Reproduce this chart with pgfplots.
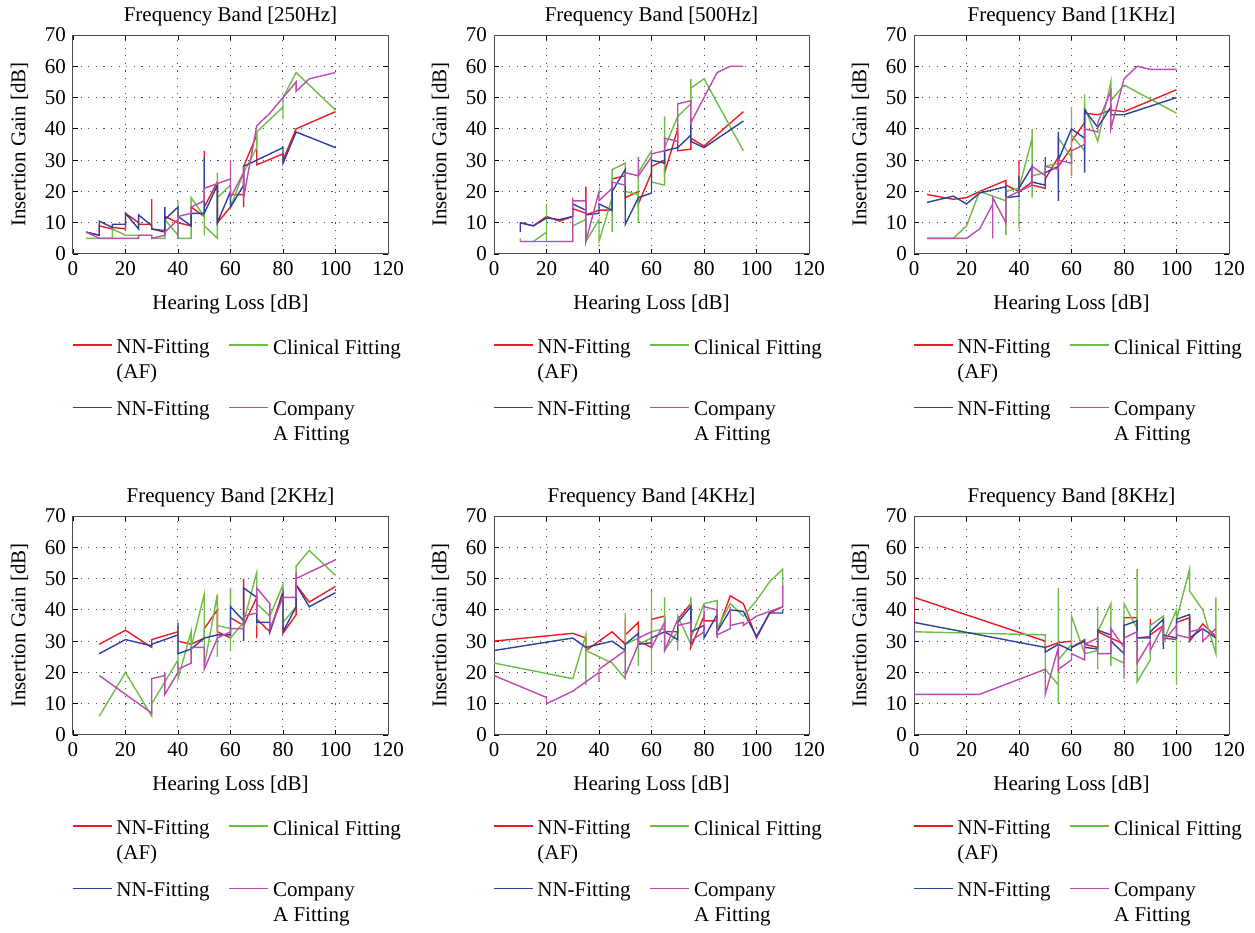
\documentclass[border=0pt]{standalone}
\usepackage{pgfplots}
\pgfplotsset{compat=1.18}
\usepackage{fontspec}
\setmainfont{Liberation Serif}
\definecolor{cRed}{RGB}{237,28,36}
\definecolor{cGreen}{RGB}{110,190,70}
\definecolor{cBlue}{RGB}{45,65,160}
\definecolor{cMag}{RGB}{190,75,175}
\pgfplotsset{
  myax/.style={
    scale only axis, width=157.5pt, height=109.5pt,
    anchor=north west,
    xmin=0, xmax=120, ymin=0, ymax=70,
    xtick={0,20,...,120}, ytick={0,10,...,70},
    grid=major,
    grid style={black!70, line width=0.5pt, dash pattern=on 0.6pt off 3.2pt},
    tick style={black, line width=0.4pt}, major tick length=2.5pt,
    axis line style={black!70, line width=0.5pt},
    tick label style={font=\fontsize{10.5}{12}\selectfont},
    label style={font=\fontsize{10.5}{12}\selectfont},
    title style={font=\fontsize{10.5}{12}\selectfont, yshift=-5pt},
    /pgf/number format/assume math mode=true,
    xlabel={Hearing Loss [dB]}, ylabel={Insertion Gain [dB]},
    ylabel style={yshift=1.5pt},
    xlabel style={yshift=-3pt},
    legend columns=2,
    legend style={draw=none, fill=none, at={(0.005,-0.35)}, anchor=north west,
      font=\fontsize{10.5}{12.5}\selectfont,
      cells={anchor=north west, align=left},
      /tikz/every even column/.append style={column sep=12pt},
      row sep=6pt},
    legend image code/.code={\path (0pt,-5pt) -- (15pt,-5pt); \draw[#1, line width=0.8pt, overlay] (-4.5pt,-5pt) -- (10.5pt,-5pt);},
    every axis plot/.append style={line width=0.7pt},
  }
}
\newcommand{\legs}{\legend{{NN-Fitting\\(AF)},{Clinical Fitting},{NN-Fitting},{Company\\A Fitting}}}
\begin{document}
\begin{tikzpicture}
\path (0,0) rectangle (627.5pt,-461.5pt);
% ---------- 250 Hz
\begin{axis}[myax, at={(36.5pt,-17.5pt)}, title={Frequency Band [250Hz]}]
\addplot[cRed] coordinates {(5,7)(10,6)(10,9)(15,8)(15,8.5)(20,8)(20,13)(25,10)(25,9.5)(30,9.5)(30,17.5)(30,8)(35,7.5)(35,12)(40,10)(45,9)(45,15)(50,12)(50,33)(50,15)(55,23)(55,10)(60,15)(60,19)(65,19)(65,15)(65,28)(70,38)(70,28.5)(80,32)(80,30)(85,40)(100,45.5)};
\addplot[cGreen] coordinates {(5,5)(10,5)(15,5)(15,8)(20,6)(25,6)(30,6)(30,5)(35,5)(35,11)(40,6)(40,17)(40,5)(45,5)(45,18)(50,12)(50,6)(50,15)(50,9)(55,5)(55,26)(55,18)(60,22)(60,15)(65,26)(70,34)(70,39)(80,47)(80,43)(80,50)(85,58)(100,46)};
\addplot[cBlue] coordinates {(5,7)(10,6)(10,10.5)(15,8.5)(15,9.5)(20,9.5)(20,13)(25,8)(25,12.5)(30,9)(30,8)(35,7)(35,15)(35,11)(40,15)(40,12)(45,9)(45,13)(50,13)(50,31)(50,13)(55,22)(55,10)(60,20)(60,15)(65,22)(65,28)(70,30)(80,34)(80,29)(85,39)(100,34)};
\addplot[cMag] coordinates {(5,7)(10,5)(15,5)(20,5)(25,5)(25,6)(30,6)(30,5)(35,6)(35,7)(40,11)(40,5)(40,12)(45,13)(45,15)(50,17)(50,21)(60,24)(60,30)(60,18)(65,26)(65,28)(65,18)(70,41)(75,45)(80,50)(85,55)(85,52)(90,56)(100,58)};
\legs
\end{axis}
% ---------- 500 Hz
\begin{axis}[myax, at={(247pt,-17.5pt)}, title={Frequency Band [500Hz]}]
\addplot[cRed] coordinates {(10,10)(15,9)(20,12)(25,10.5)(30,12)(30,14.5)(35,13)(35,21.5)(35,12.5)(40,14)(45,14)(45,24)(50,25)(50,18)(55,20)(55,16)(60,26)(60,28)(65,30)(65,26)(70,40)(70,33)(75,33.5)(75,37)(80,34.5)(95,45.5)};
\addplot[cGreen] coordinates {(10,5)(10,4)(15,4)(20,7)(20,16)(20,4)(30,4)(30,9)(35,11)(35,4)(40,11)(40,4)(45,18)(45,7)(45,27)(50,29)(50,15)(50,20)(55,19)(55,10)(55,26)(60,33)(60,23)(65,22)(65,44)(65,34)(70,44)(75,48)(75,56)(75,53)(80,56)(95,33)};
\addplot[cBlue] coordinates {(10,7)(10,10)(15,9)(20,11.5)(25,11)(30,12)(30,16)(35,14)(35,12.5)(40,13)(40,16)(45,14)(45,20)(50,27)(50,9.5)(55,18)(60,19.5)(60,30)(65,29)(65,33)(70,34)(75,38)(75,42)(75,36)(80,34)(95,42.5)};
\addplot[cMag] coordinates {(10,4)(20,4)(30,4)(30,18)(30,17)(35,17)(35,4)(40,20)(40,17)(45,21)(45,23)(50,22)(50,26)(55,25)(55,31)(55,25)(60,31)(60,32)(65,33)(65,37)(70,36)(70,48)(75,49)(75,42)(80,50)(85,58)(90,60)(95,60)};
\legs
\end{axis}
% ---------- 1 kHz
\begin{axis}[myax, at={(457pt,-17.5pt)}, title={Frequency Band [1KHz]}]
\addplot[cRed] coordinates {(5,19)(15,17.5)(20,18)(25,20)(35,23.5)(35,22)(40,20)(40,30)(40,20)(45,23)(45,22)(50,21)(50,24)(55,31)(55,28)(60,34)(60,25)(60,36)(65,42)(65,45)(70,44.5)(75,46)(80,45.5)(100,52.5)};
\addplot[cGreen] coordinates {(5,5)(15,5)(20,9)(25,20)(35,17)(35,6)(35,20)(40,21)(40,8)(40,21)(45,37)(45,40)(45,18)(45,25)(50,26)(50,28)(55,29)(55,24)(55,37)(60,31)(60,47)(60,25)(60,38)(65,33)(65,51)(65,47)(70,36)(75,55)(75,49)(80,54)(100,45)};
\addplot[cBlue] coordinates {(5,16.5)(15,18.5)(20,16)(25,19.5)(35,21.5)(35,18)(40,18.5)(40,25)(40,21)(45,28)(45,23)(50,22)(50,31)(50,26)(55,28)(55,17)(55,39)(55,30)(60,40)(65,37)(65,26)(65,46)(70,40.5)(75,47)(75,44.5)(80,44.5)(100,50)};
\addplot[cMag] coordinates {(5,5)(20,5)(25,8)(30,16)(30,5)(30,18)(35,10)(35,18)(40,20)(45,22)(45,28)(50,25)(50,28)(55,27)(55,30)(60,29)(60,33)(65,35)(65,40)(70,39)(70,42)(75,52)(75,40)(80,56)(85,60)(90,59)(100,59)};
\legs
\end{axis}
% ---------- 2 kHz
\begin{axis}[myax, at={(36.5pt,-258pt)}, title={Frequency Band [2KHz]}]
\addplot[cRed] coordinates {(10,29)(20,33.5)(30,28)(30,30.5)(40,33)(40,30)(45,29)(50,31)(50,34)(55,40)(55,33)(60,31)(60,47)(60,37.5)(65,35)(65,50)(65,35)(70,44)(70,31)(70,37)(75,33)(80,46)(80,32.5)(85,38.5)(85,48)(90,42.5)(100,47.5)};
\addplot[cGreen] coordinates {(10,6)(20,20)(30,6)(30,10)(40,24)(40,35)(40,18)(45,33)(45,28)(50,45)(50,41)(50,22)(55,45)(55,25)(55,35)(60,34)(60,27)(60,47)(60,31)(65,36)(70,52)(70,35)(70,42)(75,38)(80,48)(80,36)(85,41)(85,54)(90,59)(100,51)};
\addplot[cBlue] coordinates {(10,26)(20,30.5)(30,28.5)(30,29)(40,32)(40,36)(40,26)(45,27.5)(50,31)(55,32)(60,32)(60,41)(65,36.5)(65,30)(65,47)(70,44)(70,36)(75,36)(75,33)(80,45)(80,33)(85,41)(85,48)(90,41)(100,45.5)};
\addplot[cMag] coordinates {(10,19)(30,7)(30,18)(35,19)(35,20)(35,13)(40,20)(40,23)(40,21)(45,23)(45,28)(50,28)(50,21)(55,31)(60,33)(60,34)(65,34)(65,38)(70,39)(70,47)(75,42)(75,34)(80,44)(85,44)(85,52)(85,50)(100,56)};
\legs
\end{axis}
% ---------- 4 kHz
\begin{axis}[myax, at={(247pt,-258pt)}, title={Frequency Band [4KHz]}]
\addplot[cRed] coordinates {(0,30)(30,32.5)(35,31)(35,27)(45,33)(50,29)(50,37)(50,32)(55,36)(55,30)(60,28)(60,37)(65,38)(65,33)(70,33)(70,37)(75,42)(75,28)(80,38)(80,36.5)(85,36.5)(85,33)(90,44.5)(95,42)(100,31)(105,39)(110,41)};
\addplot[cGreen] coordinates {(0,23)(30,18)(35,32)(35,16)(35,27)(45,23)(50,18)(50,39)(50,29)(55,31)(55,22)(55,29)(60,31)(60,46)(60,20)(60,33)(65,34)(65,44)(65,27)(70,33)(70,27)(70,38)(75,29)(75,44)(75,31)(80,42)(85,43)(85,34)(90,42)(95,38)(100,43)(105,49)(110,53)(110,41)};
\addplot[cBlue] coordinates {(0,27)(30,31)(35,28)(45,30)(50,27)(50,29)(55,32.5)(55,29)(60,29.5)(60,31)(65,33)(70,30.5)(70,36)(75,41)(75,29)(75,33)(80,35)(80,31)(85,38.5)(85,33)(90,40)(95,39.5)(100,31.5)(105,39)(110,39)(110,40)};
\addplot[cMag] coordinates {(0,19)(20,12)(20,10)(30,14)(40,20)(40,17)(40,21)(50,27)(50,19)(55,29)(55,31)(60,33)(60,28)(65,36)(65,27)(70,37)(70,35)(75,36)(75,30)(80,33)(80,41)(85,40)(85,31)(85,32)(90,34)(90,41)(90,35)(95,36)(95,35)(100,38)(110,41)(110,48)};
\legs
\end{axis}
% ---------- 8 kHz
\begin{axis}[myax, at={(457pt,-258pt)}, title={Frequency Band [8KHz]}]
\addplot[cRed] coordinates {(0,27)(0,44)(50,30)(50,28)(55,29.5)(60,30)(60,28)(65,30.5)(65,29)(70,28)(70,33)(75,31)(80,29)(80,37.5)(85,37.5)(85,31)(90,31.5)(90,37)(90,32)(95,35)(95,31)(100,30.5)(100,36)(105,37.5)(105,30)(110,35.5)(115,31.5)};
\addplot[cGreen] coordinates {(0,33)(50,32)(50,21)(55,16)(55,47)(55,10)(55,24)(60,29)(60,38)(65,26)(70,27)(70,41)(70,21)(70,33)(75,42)(75,22)(75,25)(80,23)(80,42)(85,34)(85,53)(85,17)(90,24)(90,35)(95,38)(95,30)(100,40)(100,16)(100,37)(105,53)(105,46)(110,40)(115,26)(115,44)};
\addplot[cBlue] coordinates {(0,27)(0,36)(50,28)(50,26.5)(55,29)(60,27)(60,28)(65,30)(65,28)(70,27.5)(70,33.5)(75,32)(75,30)(80,26)(80,35)(85,36.5)(85,31)(90,31)(90,33)(95,37)(95,27.5)(95,32)(100,31)(100,37)(105,38.5)(105,31)(110,34)(115,31)};
\addplot[cMag] coordinates {(0,13)(25,13)(50,21)(50,13)(55,28)(55,20)(55,21)(60,24)(60,26)(65,24)(65,29)(70,31)(70,26)(75,26)(75,34)(80,28)(80,18)(80,31)(85,33)(85,23)(90,30)(90,27)(95,35)(95,30)(100,35)(100,32)(105,31)(105,33)(110,34)(110,30)(115,34)};
\legs
\end{axis}
\end{tikzpicture}
\end{document}
